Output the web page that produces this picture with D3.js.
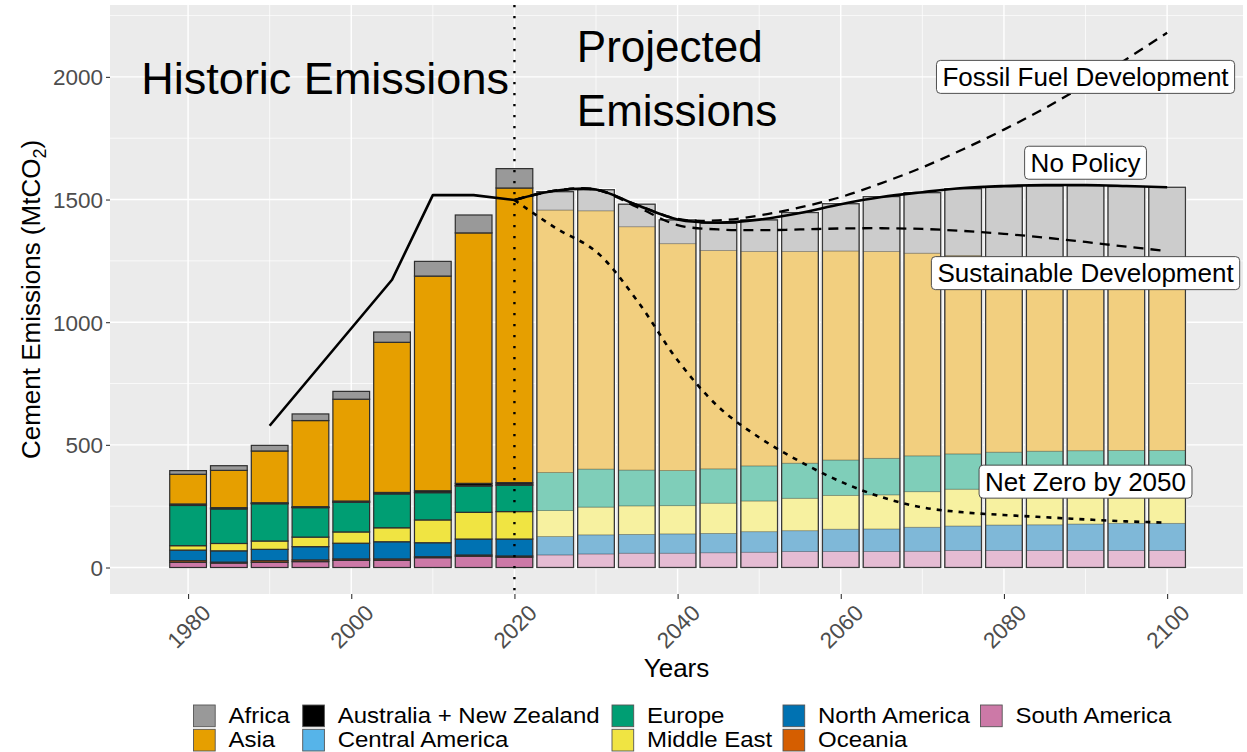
<!DOCTYPE html>
<html>
<head>
<meta charset="utf-8">
<script src="https://cdn.jsdelivr.net/npm/d3@7"></script>
<style>
  html, body { margin: 0; padding: 0; background: #fff; }
  svg { display: block; font-family: "Liberation Sans", Arial, Helvetica, sans-serif; }
</style>
</head>
<body>
<svg id="chart" width="1247" height="752"></svg>
<script>
// ---- Regions (legend order) and their colours ----
const regions = ["Africa", "Asia", "Australia + New Zealand", "Central America", "Europe",
                 "Middle East", "North America", "Oceania", "South America"];
const regionColors = ["#999999", "#E69F00", "#000000", "#56B4E9", "#009E73",
                      "#F0E442", "#0072B2", "#D55E00", "#CC79A7"];

// ---- Historic emissions by region (MtCO2) ----
const histYears          = [1980, 1985, 1990, 1995, 2000, 2005, 2010, 2015, 2020];
const histAfrica         = [15, 19, 23, 27, 32, 42, 60, 73, 79];
const histAsia           = [121, 152, 211, 351, 415, 612, 875, 1021, 1201];
const histAusNZ          = [5, 4, 3, 3, 4, 4, 6, 8, 6];
const histCentralAmerica = [1, 1, 1, 1, 1, 2, 2, 3, 5];
const histEurope         = [164, 141, 152, 120, 121, 138, 111, 107, 107];
const histMiddleEast     = [18, 30, 34, 39, 46, 57, 93, 109, 112];
const histNorthAmerica   = [43, 46, 46, 54, 64, 70, 57, 65, 69];
const histOceania        = [7, 4, 7, 7, 6, 6, 4, 5, 5];
const histSouthAmerica   = [21, 18, 21, 24, 29, 29, 40, 46, 42];

// ---- Projected emissions by region (MtCO2) ----
const projYears          = [2025, 2030, 2035, 2040, 2045, 2050, 2055, 2060, 2065, 2070, 2075, 2080, 2085, 2090, 2095, 2100];
const projAfrica         = [75, 86, 92, 97, 111, 129, 159, 193, 224, 247, 272, 290, 303, 314, 321, 328];
const projAsia           = [1070, 1053, 992, 925, 890, 874, 863, 852, 843, 826, 809, 792, 778, 766, 755, 745];
const projAusNZ          = [0, 0, 0, 0, 0, 0, 0, 0, 0, 0, 0, 0, 0, 0, 0, 0];
const projCentralAmerica = [0, 0, 0, 0, 0, 0, 0, 0, 0, 0, 0, 0, 0, 0, 0, 0];
const projEurope         = [155, 155, 146, 143, 140, 143, 143, 144, 149, 146, 144, 144, 142, 139, 136, 132];
const projMiddleEast     = [106, 113, 116, 115, 123, 125, 132, 138, 139, 145, 150, 153, 158, 160, 161, 165];
const projNorthAmerica   = [75, 78, 77, 79, 79, 84, 85, 91, 92, 98, 100, 104, 105, 108, 111, 111];
const projOceania        = [0, 0, 0, 0, 0, 0, 0, 0, 0, 0, 0, 0, 0, 0, 0, 0];
const projSouthAmerica   = [51, 55, 58, 58, 60, 62, 65, 65, 65, 66, 69, 69, 69, 69, 69, 69];

// ---- Total emission pathways ----
const histLineYears  = [1990, 2005, 2010, 2015, 2020];
const histLineValues = [578, 1173, 1518, 1518, 1498];
const scenarioYears  = [2020, 2025, 2030, 2035, 2040, 2045, 2050, 2055, 2060, 2065, 2070, 2075, 2080, 2085, 2090, 2095, 2100];
const noPolicy       = [1498, 1536, 1541, 1478, 1419, 1406, 1418, 1445, 1481, 1510, 1530, 1547, 1555, 1559, 1559, 1555, 1550];
const fossilFuel     = [1498, 1536, 1541, 1478, 1421, 1415, 1435, 1468, 1510, 1567, 1631, 1705, 1785, 1872, 1968, 2072, 2180];
const sustainable    = [1498, 1536, 1540, 1470, 1396, 1378, 1375, 1378, 1382, 1383, 1380, 1372, 1360, 1345, 1327, 1308, 1290];
const netZero        = [1498, 1385, 1288, 1090, 845, 655, 530, 432, 350, 287, 245, 225, 214, 205, 196, 188, 183];

// ---- Scenario labels ----
const scenarioNames  = ["Fossil Fuel Development", "No Policy", "Sustainable Development", "Net Zero by 2050"];
const labelYear      = 2090;
const labelValues    = [2000, 1650, 1200, 350];

// ---- Axis ticks ----
const yTicks      = [0, 500, 1000, 1500, 2000];
const yMinorTicks = [250, 750, 1250, 1750, 2250];
const xTicks      = [1980, 2000, 2020, 2040, 2060, 2080, 2100];
const xMinorTicks = [1990, 2010, 2030, 2050, 2070, 2090];

// ---------------------------------------------------------------
const svg = d3.select("#chart");
const FONT = "'Liberation Sans', Arial, Helvetica, sans-serif";
const panel = { left: 110, right: 1243, top: 5, bottom: 594 };

const x = d3.scaleLinear().domain([1970.43, 2109.3]).range([panel.left, panel.right]);
const y = d3.scaleLinear().domain([-108, 2293]).range([panel.bottom, panel.top]);
const color = d3.scaleOrdinal().domain(regions).range(regionColors);
const barWidth = 4.5; // years

// build stacked tables
function buildRows(years, series) {
  return years.map((yr, i) => {
    const row = { year: yr };
    regions.forEach((r, k) => { row[r] = series[k][i]; });
    return row;
  });
}
const histRows = buildRows(histYears, [histAfrica, histAsia, histAusNZ, histCentralAmerica, histEurope,
                                       histMiddleEast, histNorthAmerica, histOceania, histSouthAmerica]);
const projRows = buildRows(projYears, [projAfrica, projAsia, projAusNZ, projCentralAmerica, projEurope,
                                       projMiddleEast, projNorthAmerica, projOceania, projSouthAmerica]);
// first region in legend sits on top of the stack
const stack = d3.stack().keys(regions.slice().reverse());
const histStack = stack(histRows);
const projStack = stack(projRows);

// ---- panel background and grid ----
svg.append("rect")
  .attr("x", panel.left).attr("y", panel.top)
  .attr("width", panel.right - panel.left).attr("height", panel.bottom - panel.top)
  .attr("fill", "#EBEBEB");

const grid = svg.append("g");
grid.selectAll(".ymin").data(yMinorTicks).join("line")
  .attr("x1", panel.left).attr("x2", panel.right)
  .attr("y1", d => y(d)).attr("y2", d => y(d))
  .attr("stroke", "#fff").attr("stroke-width", 0.7);
grid.selectAll(".xmin").data(xMinorTicks).join("line")
  .attr("y1", panel.top).attr("y2", panel.bottom)
  .attr("x1", d => x(d)).attr("x2", d => x(d))
  .attr("stroke", "#fff").attr("stroke-width", 0.7);
grid.selectAll(".ymaj").data(yTicks).join("line")
  .attr("x1", panel.left).attr("x2", panel.right)
  .attr("y1", d => y(d)).attr("y2", d => y(d))
  .attr("stroke", "#fff").attr("stroke-width", 1.4);
grid.selectAll(".xmaj").data(xTicks).join("line")
  .attr("y1", panel.top).attr("y2", panel.bottom)
  .attr("x1", d => x(d)).attr("x2", d => x(d))
  .attr("stroke", "#fff").attr("stroke-width", 1.4);

// ---- historic stacked bars ----
const histG = svg.append("g");
histStack.forEach(layer => {
  histG.selectAll(null).data(layer).join("rect")
    .attr("x", d => x(d.data.year - barWidth / 2))
    .attr("width", d => x(d.data.year + barWidth / 2) - x(d.data.year - barWidth / 2))
    .attr("y", d => y(d[1]))
    .attr("height", d => Math.max(0, y(d[0]) - y(d[1])))
    .attr("fill", color(layer.key))
    .attr("stroke", "#2e2e2e").attr("stroke-width", 1.2);
});

// ---- projected stacked bars (translucent) ----
const projG = svg.append("g");
const projTotals = projRows.map(r => ({ year: r.year, total: d3.sum(regions, k => r[k]) }));
projG.selectAll(".halo").data(projTotals).join("rect")
  .attr("x", d => x(d.year - barWidth / 2) - 1.6)
  .attr("width", d => x(d.year + barWidth / 2) - x(d.year - barWidth / 2) + 3.2)
  .attr("y", d => y(d.total) - 1.6)
  .attr("height", d => y(0) - y(d.total) + 3.2)
  .attr("fill", "#fff");
projStack.forEach(layer => {
  projG.selectAll(null).data(layer.filter(d => d[1] > d[0])).join("rect")
    .attr("x", d => x(d.data.year - barWidth / 2))
    .attr("width", d => x(d.data.year + barWidth / 2) - x(d.data.year - barWidth / 2))
    .attr("y", d => y(d[1]))
    .attr("height", d => y(d[0]) - y(d[1]))
    .attr("fill", color(layer.key)).attr("fill-opacity", 0.5)
    .attr("stroke", "rgba(40,40,40,0.3)").attr("stroke-width", 0.8);
});
projG.selectAll(".outline").data(projTotals).join("rect")
  .attr("x", d => x(d.year - barWidth / 2))
  .attr("width", d => x(d.year + barWidth / 2) - x(d.year - barWidth / 2))
  .attr("y", d => y(d.total))
  .attr("height", d => y(0) - y(d.total))
  .attr("fill", "none").attr("stroke", "#3a3a3a").attr("stroke-width", 1.3);

// ---- emission pathways ----
const lineG = svg.append("g").attr("fill", "none").attr("stroke", "#000");
const linear = d3.line().x(d => x(d[0])).y(d => y(d[1]));
const smooth = d3.line().x(d => x(d[0])).y(d => y(d[1])).curve(d3.curveCatmullRom.alpha(0.5));
const zipLine = (xs, vs) => xs.map((v, i) => [v, vs[i]]);

lineG.append("path").attr("d", linear(zipLine(histLineYears, histLineValues)))
  .attr("stroke-width", 2.6).attr("stroke-linejoin", "round");
lineG.append("path").attr("d", smooth(zipLine(scenarioYears, fossilFuel)))
  .attr("stroke-width", 2.3).attr("stroke-dasharray", "10,7");
lineG.append("path").attr("d", smooth(zipLine(scenarioYears, sustainable)))
  .attr("stroke-width", 2.3).attr("stroke-dasharray", "10,7");
lineG.append("path").attr("d", smooth(zipLine(scenarioYears, netZero)))
  .attr("stroke-width", 2.6).attr("stroke-dasharray", "5,6");
lineG.append("path").attr("d", smooth(zipLine(scenarioYears, noPolicy)))
  .attr("stroke-width", 2.6);

// divider between historic and projected
svg.append("line")
  .attr("x1", x(2020)).attr("x2", x(2020))
  .attr("y1", panel.top).attr("y2", panel.bottom)
  .attr("stroke", "#000").attr("stroke-width", 2.4)
  .attr("stroke-dasharray", "2.2,8.8");

// ---- section titles ----
svg.append("text")
  .attr("x", x(1996.8)).attr("y", 93.5)
  .attr("text-anchor", "middle")
  .attr("font-size", 45).attr("fill", "#000")
  .text("Historic Emissions");
const proj = svg.append("text")
  .attr("x", x(2027.65)).attr("y", 61.7)
  .attr("font-size", 44).attr("fill", "#000");
proj.append("tspan").attr("x", x(2027.65)).attr("y", 61.7).text("Projected");
proj.append("tspan").attr("x", x(2027.65)).attr("y", 126).text("Emissions");

// ---- scenario labels ----
const labG = svg.append("g");
scenarioNames.forEach((name, i) => {
  const cx = x(labelYear), cy = y(labelValues[i]);
  const g = labG.append("g");
  const t = g.append("text")
    .attr("x", cx).attr("y", cy + 9.3)
    .attr("text-anchor", "middle")
    .attr("font-size", 26).attr("fill", "#000")
    .text(name);
  const w = t.node().getComputedTextLength();
  g.insert("rect", "text")
    .attr("x", cx - w / 2 - 6).attr("y", cy - 16.5)
    .attr("width", w + 12).attr("height", 33)
    .attr("rx", 4).attr("ry", 4)
    .attr("fill", "#fff").attr("stroke", "#3c3c3c").attr("stroke-width", 0.9);
});

// ---- axes ----
const yAxis = svg.append("g")
  .attr("transform", `translate(${panel.left},0)`)
  .call(d3.axisLeft(y).tickValues(yTicks).tickSize(4).tickPadding(3).tickFormat(d3.format("d")));
yAxis.select(".domain").remove();
yAxis.selectAll(".tick line").attr("stroke", "#333").attr("stroke-width", 1.1);
yAxis.selectAll(".tick text").attr("fill", "#4D4D4D").attr("font-size", 22.5)
  .attr("font-family", FONT).attr("dy", "0.36em");

const xAxis = svg.append("g")
  .attr("transform", `translate(0,${panel.bottom})`)
  .call(d3.axisBottom(x).tickValues(xTicks).tickSize(5).tickFormat(d3.format("d")));
xAxis.select(".domain").remove();
xAxis.selectAll(".tick line").attr("stroke", "#333").attr("stroke-width", 1.1);
xAxis.selectAll(".tick text")
  .attr("fill", "#4D4D4D").attr("font-size", 22.5).attr("font-family", FONT)
  .attr("text-anchor", "end")
  .attr("x", 0).attr("y", 0).attr("dy", "0.72em")
  .attr("transform", "translate(12,9) rotate(-45)");

// axis titles
svg.append("text")
  .attr("x", (panel.left + panel.right) / 2).attr("y", 677)
  .attr("text-anchor", "middle").attr("font-size", 26).attr("fill", "#000")
  .text("Years");
const yTitle = svg.append("text")
  .attr("transform", `translate(40,${(panel.top + panel.bottom) / 2}) rotate(-90)`)
  .attr("text-anchor", "middle").attr("font-size", 26).attr("fill", "#000");
yTitle.append("tspan").text("Cement Emissions (MtCO");
yTitle.append("tspan").attr("font-size", 18).attr("dy", 6).text("2");
yTitle.append("tspan").attr("dy", -6).text(")");

// ---- legend (two rows, five columns; text slightly widened) ----
const legendCols = [193.5, 302.7, 612, 783, 980.5];
const legendRows = [705, 729.3];
const keySize = 21.7;
const legend = svg.append("g");
regions.forEach((r, i) => {
  const col = Math.floor(i / 2), row = i % 2;
  const kx = legendCols[col], ky = legendRows[row];
  legend.append("rect")
    .attr("x", kx).attr("y", ky).attr("width", keySize).attr("height", keySize)
    .attr("fill", color(r)).attr("stroke", "#555").attr("stroke-width", 0.9);
  legend.append("text")
    .attr("transform", `translate(${kx + 35},${ky + 18}) scale(1.116,1)`)
    .attr("font-size", 21.5).attr("fill", "#000")
    .text(r);
});
</script>
</body>
</html>
